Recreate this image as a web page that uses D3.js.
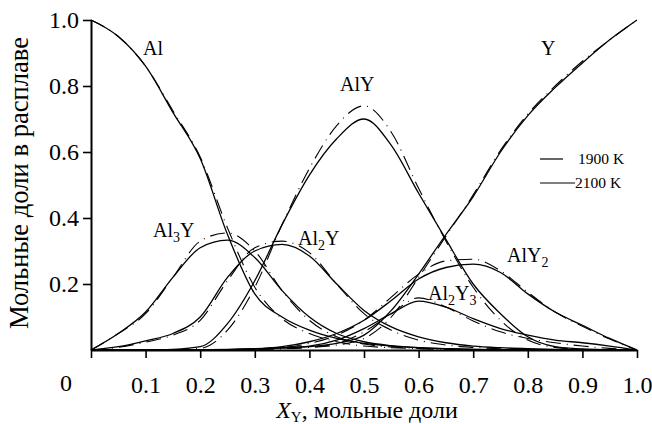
<!DOCTYPE html>
<html>
<head>
<meta charset="utf-8">
<script src="https://d3js.org/d3.v7.min.js"></script>
</head>
<body style="margin:0">
<script>
// composition grid, X_Y
var xs = [0,0.05,0.1,0.15,0.2,0.25,0.3,0.35,0.4,0.45,0.5,0.55,0.6,0.65,0.7,0.75,0.8,0.85,0.9,0.95,1];

// 2100 K (solid)
var al_2100   = [1,0.95,0.86,0.72,0.58,0.35,0.17,0.10,0.06,0.035,0.02,0.012,0.007,0.004,0.002,0.001,0,0,0,0,0];
var al3y_2100 = [0,0.05,0.115,0.22,0.31,0.333,0.28,0.18,0.10,0.05,0.025,0.013,0.007,0.004,0.002,0.001,0,0,0,0,0];
var al2y_2100 = [0,0.01,0.028,0.05,0.10,0.22,0.30,0.32,0.285,0.20,0.12,0.07,0.04,0.022,0.012,0.007,0.004,0.002,0.001,0,0];
var aly_2100  = [0,0,0,0.002,0.01,0.08,0.21,0.38,0.53,0.64,0.70,0.62,0.475,0.335,0.20,0.11,0.04,0.01,0.003,0.001,0];
var al2y3_2100= [0,0,0,0,0.001,0.002,0.004,0.007,0.012,0.03,0.065,0.11,0.148,0.13,0.095,0.065,0.045,0.03,0.022,0.012,0];
var aly2_2100 = [0,0,0,0,0,0.001,0.003,0.01,0.025,0.05,0.09,0.15,0.215,0.25,0.26,0.235,0.17,0.115,0.075,0.035,0];
var y_2100    = [0,0,0,0,0,0.001,0.003,0.006,0.01,0.02,0.045,0.12,0.23,0.35,0.465,0.60,0.71,0.795,0.87,0.94,1];

// 1900 K (dashed)
var al_1900   = [1,0.95,0.86,0.725,0.585,0.37,0.19,0.095,0.05,0.025,0.012,0.007,0.004,0.002,0.001,0,0,0,0,0,0];
var al3y_1900 = [0,0.05,0.11,0.22,0.33,0.355,0.30,0.18,0.09,0.04,0.018,0.009,0.005,0.002,0.001,0,0,0,0,0,0];
var al2y_1900 = [0,0.008,0.024,0.045,0.09,0.21,0.31,0.33,0.295,0.20,0.11,0.06,0.03,0.015,0.008,0.004,0.002,0.001,0,0,0];
var aly_1900  = [0,0,0,0.001,0.005,0.06,0.19,0.38,0.55,0.68,0.74,0.66,0.49,0.33,0.19,0.09,0.03,0.008,0.002,0,0];
var al2y3_1900= [0,0,0,0,0,0.001,0.002,0.004,0.008,0.02,0.055,0.11,0.158,0.13,0.088,0.055,0.035,0.022,0.012,0.005,0];
var aly2_1900 = [0,0,0,0,0,0,0.002,0.007,0.02,0.045,0.09,0.16,0.23,0.27,0.275,0.24,0.175,0.115,0.072,0.033,0];
var y_1900    = [0,0,0,0,0,0,0.002,0.004,0.008,0.015,0.035,0.10,0.22,0.345,0.47,0.605,0.715,0.80,0.875,0.94,1];

var xTicks = [0,0.1,0.2,0.3,0.4,0.5,0.6,0.7,0.8,0.9,1.0];
var yTicks = [0.2,0.4,0.6,0.8,1.0];
var legendLabels = ["1900 K", "2100 K"];

var width = 652, height = 424;
var serif = "'Liberation Serif'";

var svg = d3.select("body").append("svg")
    .attr("width", width)
    .attr("height", height);

var x = d3.scaleLinear().domain([0, 1]).range([91, 637]);
var y = d3.scaleLinear().domain([0, 1]).range([350, 20]);

var line = d3.line()
    .x(function(d, i) { return x(xs[i]); })
    .y(function(d) { return y(d); })
    .curve(d3.curveMonotoneX);

var solid = [al_2100, al3y_2100, al2y_2100, aly_2100, al2y3_2100, aly2_2100, y_2100];
var dashed = [al_1900, al3y_1900, al2y_1900, aly_1900, al2y3_1900, aly2_1900, y_1900];

// 1900 K curves
svg.selectAll("path.t1900")
   .data(dashed)
   .enter()
   .append("path")
   .attr("class", "t1900")
   .attr("d", line)
   .attr("fill", "none")
   .attr("stroke", "#000")
   .attr("stroke-width", 1.1)
   .attr("stroke-dasharray", "15,6,1,6");

// 2100 K curves
svg.selectAll("path.t2100")
   .data(solid)
   .enter()
   .append("path")
   .attr("class", "t2100")
   .attr("d", line)
   .attr("fill", "none")
   .attr("stroke", "#000")
   .attr("stroke-width", 1.3);

// axes
var gx = svg.append("g")
   .attr("transform", "translate(0,350)")
   .call(d3.axisBottom(x)
     .tickValues(xTicks)
     .tickSize(8)
     .tickPadding(18)
     .tickSizeOuter(0)
     .tickFormat(function(d) { return d === 0 ? "" : d3.format(".1f")(d); }));

var gy = svg.append("g")
   .attr("transform", "translate(91,0)")
   .call(d3.axisLeft(y)
     .tickValues(yTicks)
     .tickSize(8)
     .tickPadding(4)
     .tickSizeOuter(0)
     .tickFormat(d3.format(".1f")));

[gx, gy].forEach(function(g) {
  g.attr("font-family", serif).attr("font-size", 24);
  g.selectAll("text").attr("fill", "#000");
  g.selectAll("line").attr("stroke", "#000").attr("stroke-width", 1.6);
  g.select(".domain").attr("stroke", "#000").attr("stroke-width", 2);
});

// origin label
svg.append("text")
   .attr("x", 66).attr("y", 391)
   .attr("text-anchor", "middle")
   .attr("font-family", serif)
   .attr("font-size", 24)
   .text("0");

// axis titles
var xt = svg.append("text")
   .attr("x", 367).attr("y", 418)
   .attr("text-anchor", "middle")
   .attr("font-family", serif)
   .attr("font-size", 24);
xt.append("tspan").attr("font-style", "italic").text("X");
xt.append("tspan").attr("dy", 4).attr("font-size", 15).text("Y");
xt.append("tspan").attr("dy", -4).text(", мольные доли");

var yt = svg.append("text")
   .attr("transform", "translate(28,183) rotate(-90)")
   .attr("text-anchor", "middle")
   .attr("font-family", serif)
   .attr("font-size", 25)
   .text("Мольные доли в расплаве");

// fit the vertical title to the length it has in the figure
var ylen = yt.node().getComputedTextLength();
if (ylen > 0) yt.attr("font-size", (25 * 292 / ylen).toFixed(1));

// curve labels
var labels = [
  {x: 143, y: 55, parts: [["Al", 0]]},
  {x: 541, y: 55, parts: [["Y", 0]]},
  {x: 340, y: 91, parts: [["AlY", 0]]},
  {x: 153, y: 237, parts: [["Al", 0], ["3", 1], ["Y", 0]]},
  {x: 298, y: 245, parts: [["Al", 0], ["2", 1], ["Y", 0]]},
  {x: 428, y: 300, parts: [["Al", 0], ["2", 1], ["Y", 0], ["3", 1]]},
  {x: 507, y: 262, parts: [["AlY", 0], ["2", 1]]}
];

labels.forEach(function(l) {
  var t = svg.append("text")
     .attr("x", l.x).attr("y", l.y)
     .attr("font-family", serif)
     .attr("font-size", 20);
  var shift = 0;
  l.parts.forEach(function(p) {
    var dy = p[1] ? 5 - shift : -shift;
    shift = p[1] ? 5 : 0;
    t.append("tspan")
     .attr("dy", dy)
     .attr("font-size", p[1] ? 14 : 20)
     .text(p[0]);
  });
});

// legend
var legend = svg.append("g");
legend.append("line")
   .attr("x1", 540).attr("x2", 563).attr("y1", 159).attr("y2", 159)
   .attr("stroke", "#000").attr("stroke-width", 1.2);
legend.append("line")
   .attr("x1", 540).attr("x2", 575).attr("y1", 183).attr("y2", 183)
   .attr("stroke", "#000").attr("stroke-width", 1.2);
legend.selectAll("text")
   .data(legendLabels)
   .enter()
   .append("text")
   .attr("x", function(d, i) { return i === 0 ? 578 : 575; })
   .attr("y", function(d, i) { return 164 + i * 24; })
   .attr("font-family", serif)
   .attr("font-size", 15.5)
   .text(function(d) { return d; });
</script>
</body>
</html>
